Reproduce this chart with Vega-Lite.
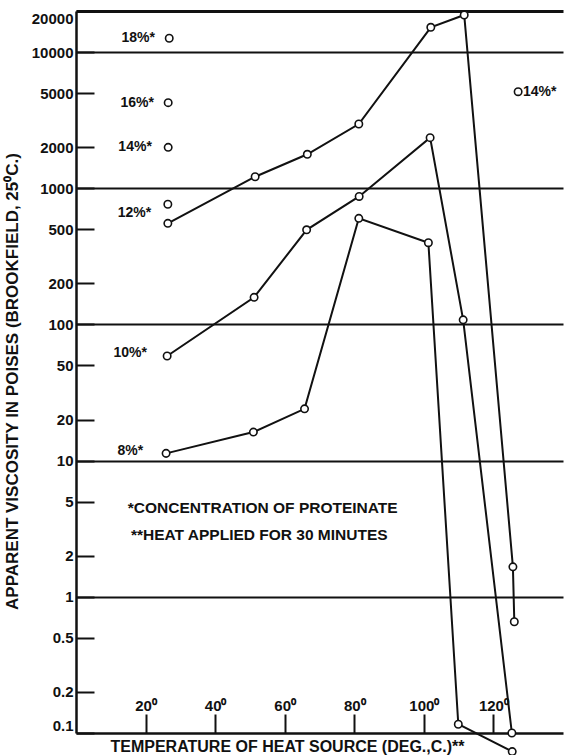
{
  "$schema": "https://vega.github.io/schema/vega-lite/v6.json",
  "autosize": {"type": "none"},
  "padding": {"left": 76, "top": 11, "right": 1, "bottom": 22},
  "width": 487,
  "height": 722,
  "background": "white",
  "config": {
    "view": {"stroke": null},
    "font": "Liberation Sans"
  },
  "datasets": {
    "pts": [
      {"series": "12%", "ord": 1, "temp": 26.4, "visc": 552},
      {"series": "12%", "ord": 2, "temp": 51.5, "visc": 1214},
      {"series": "12%", "ord": 3, "temp": 66.5, "visc": 1774},
      {"series": "12%", "ord": 4, "temp": 81.3, "visc": 2960},
      {"series": "12%", "ord": 5, "temp": 102.0, "visc": 15180},
      {"series": "12%", "ord": 6, "temp": 111.6, "visc": 18700},
      {"series": "12%", "ord": 7, "temp": 125.6, "visc": 1.66},
      {"series": "12%", "ord": 8, "temp": 126.0, "visc": 0.656},
      {"series": "10%", "ord": 1, "temp": 26.2, "visc": 58.6},
      {"series": "10%", "ord": 2, "temp": 51.2, "visc": 158},
      {"series": "10%", "ord": 3, "temp": 66.3, "visc": 495},
      {"series": "10%", "ord": 4, "temp": 81.4, "visc": 870},
      {"series": "10%", "ord": 5, "temp": 101.8, "visc": 2349},
      {"series": "10%", "ord": 6, "temp": 111.3, "visc": 108},
      {"series": "10%", "ord": 7, "temp": 125.3, "visc": 0.1},
      {"series": "8%", "ord": 1, "temp": 25.9, "visc": 11.3},
      {"series": "8%", "ord": 2, "temp": 51.0, "visc": 16.2},
      {"series": "8%", "ord": 3, "temp": 65.7, "visc": 24.0},
      {"series": "8%", "ord": 4, "temp": 81.3, "visc": 601},
      {"series": "8%", "ord": 5, "temp": 101.3, "visc": 398},
      {"series": "8%", "ord": 6, "temp": 109.9, "visc": 0.116},
      {"series": "8%", "ord": 7, "temp": 125.4, "visc": 0.073},
      {"series": "single", "ord": 1, "temp": 26.8, "visc": 12610},
      {"series": "single", "ord": 2, "temp": 26.5, "visc": 4245},
      {"series": "single", "ord": 3, "temp": 26.5, "visc": 1996},
      {"series": "single", "ord": 4, "temp": 26.4, "visc": 762},
      {"series": "single", "ord": 5, "temp": 127.1, "visc": 5112}
    ],
    "labels": [
      {"side": "r", "temp": 22.7, "visc": 12600, "text": "18%*"},
      {"side": "r", "temp": 22.4, "visc": 4245, "text": "16%*"},
      {"side": "r", "temp": 21.8, "visc": 1996, "text": "14%*"},
      {"side": "r", "temp": 21.6, "visc": 655, "text": "12%*"},
      {"side": "r", "temp": 20.4, "visc": 61.4, "text": "10%*"},
      {"side": "r", "temp": 19.3, "visc": 11.8, "text": "8%*"},
      {"side": "l", "temp": 128.5, "visc": 5112, "text": "14%*"}
    ],
    "notes": [
      {"temp": 14.9, "visc": 4.47, "text": "*CONCENTRATION OF PROTEINATE"},
      {"temp": 15.8, "visc": 2.84, "text": "**HEAT APPLIED FOR 30 MINUTES"}
    ]
  },
  "encoding": {
    "x": {
      "field": "temp",
      "type": "quantitative",
      "scale": {"type": "linear", "domain": [0, 140], "nice": false, "zero": false},
      "axis": {
        "values": [20, 40, 60, 80, 100, 120],
        "labelExpr": "datum.value + '⁰'",
        "grid": false,
        "domain": true,
        "domainColor": "#111",
        "domainWidth": 2.5,
        "ticks": true,
        "tickSize": -19,
        "tickWidth": 2,
        "tickColor": "#111",
        "labelPadding": -4,
        "labelBaseline": "alphabetic",
        "labelFont": "Liberation Sans",
        "labelFontWeight": "bold",
        "labelFontSize": 15,
        "labelColor": "#111",
        "labelOverlap": false,
        "labelFlush": false,
        "title": "TEMPERATURE OF HEAT SOURCE (DEG.,C.)**",
        "titleX": 211,
        "titleY": 13,
        "titleAlign": "center",
        "titleBaseline": "middle",
        "titleFont": "Liberation Sans",
        "titleFontWeight": "bold",
        "titleFontSize": 16,
        "titleColor": "#111"
      }
    },
    "y": {
      "field": "visc",
      "type": "quantitative",
      "scale": {"type": "log", "domain": [0.1, 20000], "nice": false},
      "axis": {
        "values": [0.1, 0.2, 0.5, 1, 2, 5, 10, 20, 50, 100, 200, 500, 1000, 2000, 5000, 10000, 20000],
        "labelExpr": "toString(datum.value)",
        "grid": true,
        "gridColor": "#111",
        "gridOpacity": {"condition": {"test": "indexof([1, 10, 100, 1000, 10000, 20000], datum.value) >= 0", "value": 1}, "value": 0},
        "gridWidth": {"condition": {"test": "datum.value == 20000", "value": 3}, "value": 2},
        "domain": true,
        "domainColor": "#111",
        "domainWidth": 2.5,
        "ticks": true,
        "tickSize": -18,
        "tickWidth": 2,
        "tickColor": "#111",
        "labelPadding": 21,
        "labelFlush": true,
        "labelOverlap": false,
        "labelFont": "Liberation Sans",
        "labelFontWeight": "bold",
        "labelFontSize": 15,
        "labelColor": "#111",
        "title": "APPARENT VISCOSITY IN POISES (BROOKFIELD, 25⁰C.)",
        "titleX": -64,
        "titleY": 370,
        "titleAngle": -90,
        "titleAlign": "center",
        "titleBaseline": "middle",
        "titleFont": "Liberation Sans",
        "titleFontWeight": "bold",
        "titleFontSize": 17,
        "titleColor": "#111"
      }
    }
  },
  "layer": [
    {
      "data": {"name": "pts"},
      "transform": [{"filter": "datum.series != 'single'"}],
      "mark": {"type": "line", "color": "#111", "strokeWidth": 2},
      "encoding": {
        "detail": {"field": "series", "type": "nominal"},
        "order": {"field": "ord", "type": "quantitative"}
      }
    },
    {
      "data": {"name": "pts"},
      "mark": {"type": "point", "shape": "circle", "size": 55, "fill": "white", "stroke": "#111", "strokeWidth": 1.6, "opacity": 1}
    },
    {
      "data": {"name": "labels"},
      "transform": [{"filter": "datum.side == 'r'"}],
      "mark": {"type": "text", "align": "right", "baseline": "middle", "font": "Liberation Sans", "fontWeight": "bold", "fontSize": 14, "color": "#111"},
      "encoding": {"text": {"field": "text", "type": "nominal"}}
    },
    {
      "data": {"name": "labels"},
      "transform": [{"filter": "datum.side == 'l'"}],
      "mark": {"type": "text", "align": "left", "baseline": "middle", "font": "Liberation Sans", "fontWeight": "bold", "fontSize": 14, "color": "#111"},
      "encoding": {"text": {"field": "text", "type": "nominal"}}
    },
    {
      "data": {"name": "notes"},
      "mark": {"type": "text", "align": "left", "baseline": "middle", "font": "Liberation Sans", "fontWeight": "bold", "fontSize": 15.5, "color": "#111"},
      "encoding": {"text": {"field": "text", "type": "nominal"}}
    }
  ]
}
